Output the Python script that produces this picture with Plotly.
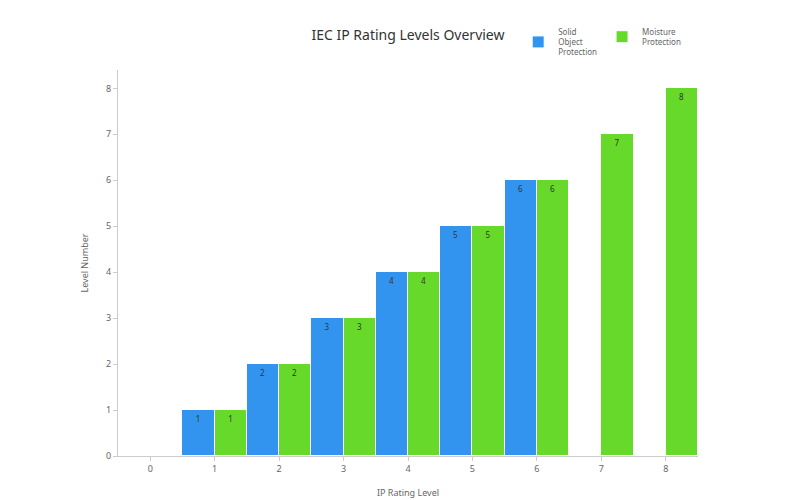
import plotly.graph_objects as go

categories = ["0", "1", "2", "3", "4", "5", "6", "7", "8"]
solid = [0, 1, 2, 3, 4, 5, 6, None, None]
moisture = [0, 1, 2, 3, 4, 5, 6, 7, 8]

fig = go.Figure()
fig.add_bar(x=categories, y=solid, name="Solid<br>Object<br>Protection", marker_color="#3394f0",
            marker_line=dict(color="white", width=1),
            text=[str(v) if v else "" for v in solid], textposition="inside", insidetextanchor="end",
            textfont=dict(size=8, color="#333"))
fig.add_bar(x=categories, y=moisture, name="Moisture<br>Protection", marker_color="#66d92a",
            marker_line=dict(color="white", width=1),
            text=[str(v) if v else "" for v in moisture], textposition="inside", insidetextanchor="end",
            textfont=dict(size=8, color="#333"))
fig.update_layout(
    width=800, height=500, plot_bgcolor="white", paper_bgcolor="white",
    font=dict(family="Noto Sans", color="#666", size=9),
    title=dict(text="IEC IP Rating Levels Overview", x=0.5, xanchor="center", y=0.955,
               font=dict(size=14, color="#333")),
    barmode="group", bargap=0.0, bargroupgap=0.0,
    margin=dict(l=110, r=110, t=57, b=40),
    legend=dict(orientation="h", x=0.69, y=1.13, xanchor="left", yanchor="top",
                font=dict(size=8, color="#666")),
    uniformtext=dict(minsize=7, mode="show"),
)
fig.update_xaxes(title=dict(text="IP Rating Level", font=dict(size=9)), showline=True, linecolor="#ccc",
                 ticks="outside", tickcolor="#ccc", ticklen=4, showgrid=False, range=[-0.5, 8.5])
fig.update_yaxes(title=dict(text="Level Number", font=dict(size=9)), showline=True, linecolor="#ccc",
                 ticks="outside", tickcolor="#ccc", ticklen=4, showgrid=False, range=[0, 8.4], dtick=1,
                 zeroline=False)
fig.write_html("out.html")
